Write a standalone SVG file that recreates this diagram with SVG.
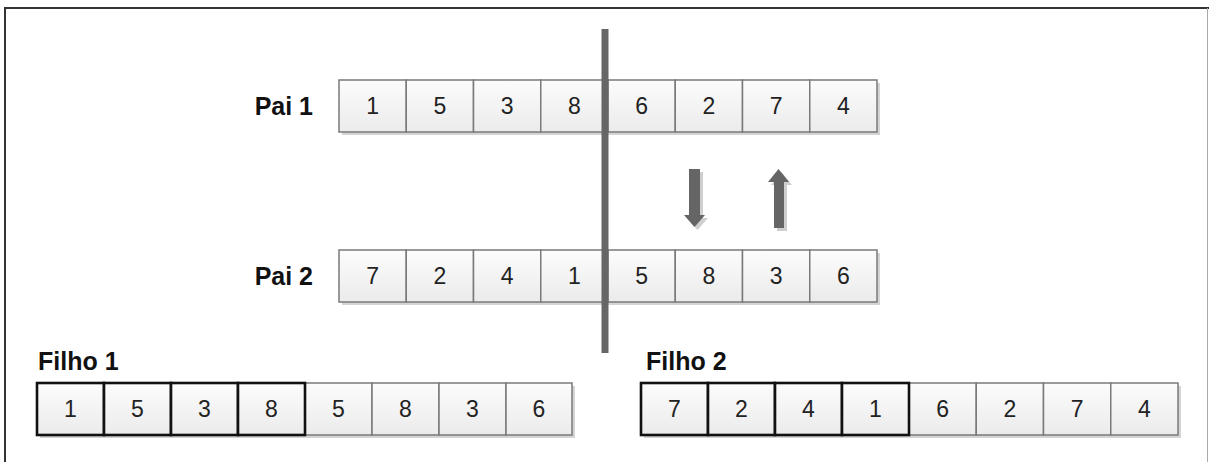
<svg xmlns="http://www.w3.org/2000/svg" width="1209" height="462" viewBox="0 0 1209 462">
  <style>
    .cell { fill: url(#cellFill); stroke: #7a7a7a; stroke-width: 1.5; }
    .cell-bold { fill: url(#cellFill); stroke: #111; stroke-width: 2.6; }
    .shadow { fill: #d4d4d4; }
    .num { font-family: "Liberation Sans", Arial, sans-serif; font-size: 23px; fill: #222; text-anchor: middle; }
    .label { font-family: "Liberation Sans", Arial, sans-serif; font-size: 25px; font-weight: bold; fill: #111; }
    .arrow { fill: #656565; }
    .arrow-shadow { fill: #cfcfcf; }
  </style>
  <defs>
    <linearGradient id="cellFill" x1="0" y1="0" x2="0" y2="1">
      <stop offset="0" stop-color="#fcfcfc"/>
      <stop offset="1" stop-color="#ebebeb"/>
    </linearGradient>
  </defs>

  <rect width="1209" height="462" fill="#fff"/>

  <!-- frame -->
  <g id="frame">
    <path d="M5,462 V8 H1209" fill="none" stroke="#333" stroke-width="2"/>
    <line x1="1207.5" y1="8" x2="1207.5" y2="462" stroke="#aaa" stroke-width="1"/>
  </g>

  <!-- parent 1 -->
  <g id="pai1">
    <text class="label" x="313" y="115" text-anchor="end">Pai 1</text>
    <rect class="shadow" x="342" y="83" width="538" height="52"/>
    <rect class="cell" x="339" y="80" width="67.25" height="52"/>
    <rect class="cell" x="406.25" y="80" width="67.25" height="52"/>
    <rect class="cell" x="473.5" y="80" width="67.25" height="52"/>
    <rect class="cell" x="540.75" y="80" width="67.25" height="52"/>
    <rect class="cell" x="608" y="80" width="67.25" height="52"/>
    <rect class="cell" x="675.25" y="80" width="67.25" height="52"/>
    <rect class="cell" x="742.5" y="80" width="67.25" height="52"/>
    <rect class="cell" x="809.75" y="80" width="67.25" height="52"/>
    <text class="num" x="372.6" y="114">1</text>
    <text class="num" x="439.9" y="114">5</text>
    <text class="num" x="507.1" y="114">3</text>
    <text class="num" x="574.4" y="114">8</text>
    <text class="num" x="641.6" y="114">6</text>
    <text class="num" x="708.9" y="114">2</text>
    <text class="num" x="776.1" y="114">7</text>
    <text class="num" x="843.4" y="114">4</text>
  </g>

  <!-- parent 2 -->
  <g id="pai2">
    <text class="label" x="313" y="285" text-anchor="end">Pai 2</text>
    <rect class="shadow" x="342" y="253" width="538" height="52"/>
    <rect class="cell" x="339" y="250" width="67.25" height="52"/>
    <rect class="cell" x="406.25" y="250" width="67.25" height="52"/>
    <rect class="cell" x="473.5" y="250" width="67.25" height="52"/>
    <rect class="cell" x="540.75" y="250" width="67.25" height="52"/>
    <rect class="cell" x="608" y="250" width="67.25" height="52"/>
    <rect class="cell" x="675.25" y="250" width="67.25" height="52"/>
    <rect class="cell" x="742.5" y="250" width="67.25" height="52"/>
    <rect class="cell" x="809.75" y="250" width="67.25" height="52"/>
    <text class="num" x="372.6" y="284">7</text>
    <text class="num" x="439.9" y="284">2</text>
    <text class="num" x="507.1" y="284">4</text>
    <text class="num" x="574.4" y="284">1</text>
    <text class="num" x="641.6" y="284">5</text>
    <text class="num" x="708.9" y="284">8</text>
    <text class="num" x="776.1" y="284">3</text>
    <text class="num" x="843.4" y="284">6</text>
  </g>

  <!-- crossover cut line -->
  <g id="cut">
    <rect x="601.5" y="29" width="7" height="324" fill="#666"/>
  </g>

  <!-- swap arrows -->
  <g id="connectors">
    <path class="arrow-shadow" d="M692,172 H703 V218 H708 L697.5,230 L687,218 H692 Z"/>
    <path class="arrow" d="M689,169 H700 V215 H705 L694.5,227 L684,215 H689 Z"/>
    <path class="arrow-shadow" d="M777,185 H771 L781.5,172 L792,185 H787 V231 H777 Z"/>
    <path class="arrow" d="M774,182 H768 L778.5,169 L789,182 H784 V228 H774 Z"/>
  </g>

  <!-- child 1 -->
  <g id="filho1">
    <text class="label" x="38" y="370">Filho 1</text>
    <rect class="shadow" x="40" y="386" width="535" height="52"/>
    <rect class="cell" x="305" y="383" width="67" height="52"/>
    <rect class="cell" x="372" y="383" width="67" height="52"/>
    <rect class="cell" x="439" y="383" width="67" height="52"/>
    <rect class="cell" x="506" y="383" width="66" height="52"/>
    <rect class="cell-bold" x="37" y="383" width="67" height="52"/>
    <rect class="cell-bold" x="104" y="383" width="67" height="52"/>
    <rect class="cell-bold" x="171" y="383" width="67" height="52"/>
    <rect class="cell-bold" x="238" y="383" width="67" height="52"/>
    <text class="num" x="70.5" y="417">1</text>
    <text class="num" x="137.5" y="417">5</text>
    <text class="num" x="204.5" y="417">3</text>
    <text class="num" x="271.5" y="417">8</text>
    <text class="num" x="338.5" y="417">5</text>
    <text class="num" x="405.5" y="417">8</text>
    <text class="num" x="472.5" y="417">3</text>
    <text class="num" x="539" y="417">6</text>
  </g>

  <!-- child 2 -->
  <g id="filho2">
    <text class="label" x="646" y="370">Filho 2</text>
    <rect class="shadow" x="644" y="386" width="537" height="52"/>
    <rect class="cell" x="909" y="383" width="67.25" height="52"/>
    <rect class="cell" x="976.25" y="383" width="67.25" height="52"/>
    <rect class="cell" x="1043.5" y="383" width="67.25" height="52"/>
    <rect class="cell" x="1110.75" y="383" width="67.25" height="52"/>
    <rect class="cell-bold" x="641" y="383" width="67" height="52"/>
    <rect class="cell-bold" x="708" y="383" width="67" height="52"/>
    <rect class="cell-bold" x="775" y="383" width="67" height="52"/>
    <rect class="cell-bold" x="842" y="383" width="67" height="52"/>
    <text class="num" x="674.5" y="417">7</text>
    <text class="num" x="741.5" y="417">2</text>
    <text class="num" x="808.5" y="417">4</text>
    <text class="num" x="875.5" y="417">1</text>
    <text class="num" x="942.6" y="417">6</text>
    <text class="num" x="1009.9" y="417">2</text>
    <text class="num" x="1077.1" y="417">7</text>
    <text class="num" x="1144.4" y="417">4</text>
  </g>
</svg>
